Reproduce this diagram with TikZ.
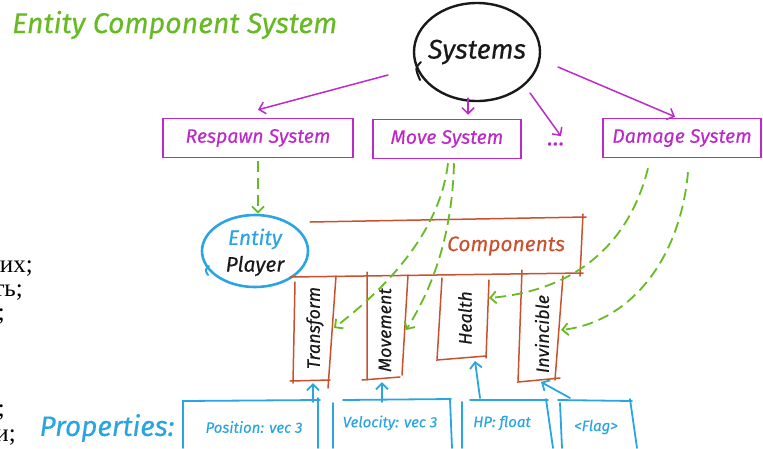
\documentclass[tikz,border=0pt]{standalone}
\usepackage{fontspec}
\setmainfont{Fira Sans}
\newfontfamily\handfont{Fira Sans}[FakeBold=0.3]
\newfontfamily\cyrfont{Liberation Serif}
\usetikzlibrary{arrows.meta,shapes.geometric,calc}

\definecolor{ecsgreen}{RGB}{104,186,36}
\definecolor{syspurple}{RGB}{188,42,200}
\definecolor{comporange}{RGB}{200,82,46}
\definecolor{propblue}{RGB}{42,165,225}
\definecolor{inkblack}{RGB}{25,25,25}

\begin{document}
\begin{tikzpicture}[x=1pt,y=-1pt,
  hand/.style={inner sep=0pt,font=\handfont\itshape\fontsize{#1}{#1}\selectfont},
  hand/.default=18,
  barb/.style={-{Straight Barb[length=6pt,width=12pt]}},
  sysline/.style={syspurple,line width=1.5pt,line cap=round},
  sysarrow/.style={sysline,barb},
  usesarrow/.style={ecsgreen,line width=1.8pt,dash pattern=on 11pt off 6pt,barb},
  compline/.style={comporange,line width=1.5pt,line cap=round},
  propline/.style={propblue,line width=1.8pt,line cap=round},
  proparrow/.style={propline,barb},
  systembox/.style={hand=19.5,text=syspurple,draw=syspurple,line width=1.5pt,
    rectangle,minimum height=39pt},
  coltext/.style={hand=18,text=inkblack,rotate=90},
  proptext/.style={hand=15,text=propblue},
  rutext/.style={inner sep=0pt,anchor=base east,font=\cyrfont\fontsize{25}{25}\selectfont,text=black}
]
\useasboundingbox (0,0) rectangle (763,448);
\clip (0,0) rectangle (763,448);

% side text of the page
\node[rutext] (ru1) at (33,272) {их;};
\node[rutext] (ru2) at (23,296) {ть;};
\node[rutext] (ru3) at (5,320) {;};
\node[rutext] (ru4) at (5,416) {;};
\node[rutext] (ru5) at (16,441) {и;};

% heading
\node[hand=28.5,text=ecsgreen,anchor=base west] (title) at (12,33) {Entity Component System};

% systems
\node[draw=inkblack,ellipse,line width=2.4pt,minimum width=126pt,minimum height=98pt,inner sep=0pt] (sys) at (477,52) {};
\draw[inkblack,line width=2pt,line cap=round] (421,62) .. controls (415,68) .. (420,80);
\node[hand=27,text=inkblack] (systxt) at (477,52) {Systems};

\node[systembox,minimum width=190pt] (resp) at (258,138) {Respawn System};
\node[systembox,minimum width=148pt] (move) at (447,139) {Move System};
\node[systembox,minimum width=158pt] (dmg) at (682,138) {Damage System};
\node[hand=24,text=syspurple] (dots) at (556,144) {...};

\draw[sysarrow] ($(sys.center)+(-89,23)$) -- ($(resp.north)+(0,-8)$);
\draw[sysarrow] ($(sys.south)+(-9,-4)$) -- ($(move.north)+(21,-4)$);
\draw[sysarrow] ($(sys.center)+(53,41)$) -- ($(dots.north)+(5,-6)$);
\draw[sysarrow] ($(sys.center)+(81,15)$) -- ($(dmg.north)+(-7,-1)$);

% entity
\node[draw=propblue,ellipse,line width=2.6pt,minimum width=106pt,minimum height=72pt,inner sep=0pt] (ent) at (255,251) {};
\draw[propblue,line width=2pt,line cap=round] (209,266) .. controls (205,270) .. (208,275);
\node[hand=21,text=propblue] (entlbl) at (255,239) {Entity};
\node[hand=21,text=inkblack] (player) at (255,266) {Player};

% components frame
\draw[compline] (310,222) -- (586,217);
\draw[compline] (583,214) -- (580,276);
\draw[compline] (290,277) -- (583,273);
\node[hand=21,text=comporange] (comp) at (506,246) {Components};

% component columns
\draw[compline] (295,282) -- (293,383) (290,381) -- (330,380) (336,276) -- (328,388);
\draw[compline] (367,272) -- (367,380) (362,380) -- (400,377) (408,275) -- (402,375);
\draw[compline] (442,278) -- (437,360) -- (486,356) (489,280) -- (486,358);
\draw[compline] (522,270) -- (518,382) -- (560,378) (563,276) -- (555,380);

\node[coltext] (trn) at (315,328) {Transform};
\node[coltext] (mov) at (385,330) {Movement};
\node[coltext] (hlth) at (465,318) {Health};
\node[coltext] (inv) at (542,334) {Invincible};

\coordinate (trn-in) at (334,328);
\coordinate (mov-in) at (406,330);
\coordinate (hlth-in) at (489,298);
\coordinate (inv-in) at (561,330);

% systems acting on components
\draw[usesarrow] ($(resp.south)+(0,3)$) -- (resp.south |- ent.north);
\draw[usesarrow] ($(move.south)+(1,4)$) .. controls (440,230) and (390,285) .. (trn-in);
\draw[usesarrow] ($(move.south)+(7,4)$) .. controls (452,240) and (430,292) .. (mov-in);
\draw[usesarrow] ($(dmg.south)+(-34,10)$) .. controls (630,240) and (580,290) .. (hlth-in);
\draw[usesarrow] ($(dmg.south)+(6,14)$) .. controls (680,260) and (630,322) .. (inv-in);

% properties
\node[hand=28,text=propblue] (props) at (107,428) {Properties:};

\draw[propline] (183,448) -- (183,401) -- (320,400) (318,398) -- (318,448);
\draw[propline] (333,448) -- (333,403) (343,400) -- (451,399) (450,399) -- (452,448);
\draw[propline] (462,448) -- (462,402) (470,400) -- (548,400) (546,399) -- (553,448);
\draw[propline] (562,448) -- (560,403) (558,400) -- (632,401) (630,399) -- (637,448);

\node[proptext] (pos) at (254,427) {Position: vec 3};
\node[proptext] (vel) at (390,423) {Velocity: vec 3};
\node[proptext] (hp) at (502,423) {HP: float};
\node[proptext] (flag) at (596,427) {<Flag>};

\draw[proparrow] ($(pos.center)+(59,-25)$) -- ($(trn.center)+(-2,55)$);
\draw[proparrow] ($(vel.center)+(-8,-21)$) -- ($(mov.center)+(-3,52)$);
\draw[proparrow] ($(hp.center)+(-22,-25)$) -- ($(hlth.center)+(10,43)$);
\draw[proparrow] ($(flag.center)+(-26,-29)$) -- ($(inv.center)+(-1,48)$);
\end{tikzpicture}
\end{document}
